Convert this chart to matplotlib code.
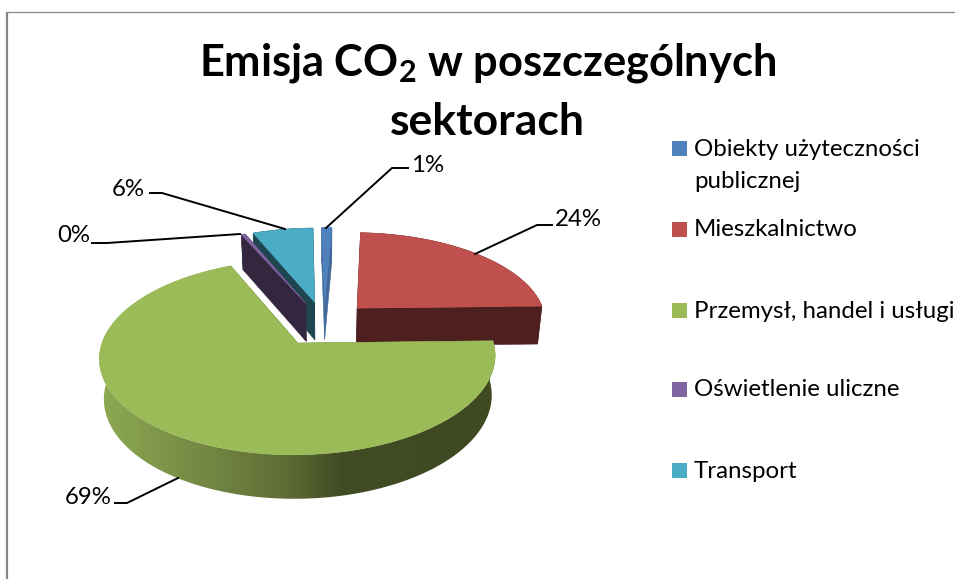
import numpy as np
import matplotlib
matplotlib.use("Agg")
import matplotlib.pyplot as plt
from matplotlib.colors import LinearSegmentedColormap
from matplotlib.patches import Polygon, Rectangle

# ---- data
categories = ["Obiekty użyteczności\npublicznej", "Mieszkalnictwo",
              "Przemysł, handel i usługi", "Oświetlenie uliczne", "Transport"]
values = [1.0, 24.0, 69.0, 0.4, 6.0]
top_colors = ["#4f81bd", "#c0504d", "#9bbb59", "#8064a2", "#4bacc6"]
side_colors = ["#41699b", "#4d1f1e", "#5b6b33", "#35263f", "#1e4650"]
title_lines = ["Emisja CO$_{\\mathbf{2}}$ w poszczególnych", "sektorach"]

# ---- projection of the tilted, exploded pie (pixel space)
CX, CY, RX, RY, K, EXPLODE = 324, 323.5, 190, 90, 0.14, 0.25
SHRINK, DEPTH, DEPTH_SLOPE, DEPTH_REF = 0.98, 38, 0.041, 308
START = np.radians(-1.0)

plt.rcParams["font.family"] = ["Lato", "DejaVu Sans"]
plt.rcParams["mathtext.fontset"] = "custom"
plt.rcParams["mathtext.bf"] = "Lato:bold"
plt.rcParams["mathtext.rm"] = "Lato"
fig = plt.figure(figsize=(9.55, 5.79), dpi=100)
ax = fig.add_axes([0, 0, 1, 1])


def project(u, v):
    s = 1 / (1 - K * v)
    return CX + RX * u * s, CY + RY * v * s


def drop(p):
    x, y = p
    return CX + (x - CX) * SHRINK, y + DEPTH + DEPTH_SLOPE * (y - DEPTH_REF)


def rim(theta, ou, ov):
    return project(ou + np.sin(theta), ov - np.cos(theta))


side_ramp = LinearSegmentedColormap.from_list(
    "side", [(0.0, "#8fae55"), (0.02, "#8ca952"), (0.326, "#6e803f"), (0.48, "#5b6b33"),
             (0.61, "#414b24"), (1.0, "#3f4a23")])

shares = np.array(values) / np.sum(values)
ends = START + np.cumsum(shares) * 2 * np.pi
starts = ends - shares * 2 * np.pi
mids = (starts + ends) / 2

order = sorted(range(len(values)), key=lambda i: -np.cos(mids[i]))
for level, i in enumerate(order):
    z = 2 + level
    ou, ov = EXPLODE * np.sin(mids[i]), -EXPLODE * np.cos(mids[i])
    apex = project(ou, ov)
    thetas = np.linspace(starts[i], ends[i], max(3, int(shares[i] * 400)))
    arc = [rim(t, ou, ov) for t in thetas]
    for edge in (arc[0], arc[-1]):
        ax.add_patch(Polygon([apex, edge, drop(edge), drop(apex)], closed=True,
                             fc=side_colors[i], ec=side_colors[i], lw=0.4, zorder=z))
    wall = arc + [drop(p) for p in arc[::-1]]
    if i == 2:
        # the largest slice has a shaded outer wall
        clip = Polygon(wall, closed=True, fc="none", ec="none", zorder=z)
        ax.add_patch(clip)
        img = ax.imshow(np.linspace(0, 1, 405)[None, :], cmap=side_ramp, aspect="auto",
                        extent=(95, 500, 579, 0), zorder=z, interpolation="bilinear")
        img.set_clip_path(clip)
    else:
        ax.add_patch(Polygon(wall, closed=True, fc=side_colors[i],
                             ec=side_colors[i], lw=0.4, zorder=z))
    ax.add_patch(Polygon([apex] + arc, closed=True, fc=top_colors[i],
                         ec=top_colors[i], lw=0.4, zorder=z + 0.5))

ax.set_xlim(0, 955)
ax.set_ylim(579, 0)
ax.axis("off")

# ---- frame
ax.plot([7, 7], [579, 12], color="#868686", lw=1.6, solid_capstyle="butt", zorder=1)
ax.plot([6, 955], [11.5, 11.5], color="#868686", lw=0.9, solid_capstyle="butt", zorder=1)

# ---- title
ax.text(488, 63, title_lines[0], ha="center", va="center",
        fontsize=31.2, fontweight="bold", color="black", zorder=10)
ax.text(487, 122, title_lines[1], ha="center", va="center",
        fontsize=32, fontweight="bold", color="black", zorder=10)

# ---- data labels and leaders
labels = [f"{v:.0f}%" for v in values]
label_pos = [(411, 165), (555, 220), (65, 498), (57, 236), (112, 189)]
leaders = [[(408, 168), (392, 168), (326, 228)],
           [(552, 225), (537, 225), (475, 254)],
           [(115, 503), (127, 503), (178, 478)],
           [(92, 243), (107, 243), (240, 234)],
           [(150, 193), (162, 193), (285, 229)]]
for text, pos, line in zip(labels, label_pos, leaders):
    ax.text(pos[0], pos[1], text, ha="left", va="center", fontsize=17.3, color="black", zorder=10)
    ax.plot(*zip(*line), color="black", lw=1.4, zorder=9, solid_joinstyle="miter")

# ---- legend
legend_y = [149, 230, 311, 390, 471]
for name, color, y in zip(categories, top_colors, legend_y):
    ax.add_patch(Rectangle((672, y - 8.5), 15, 15, fc=color, ec="none", zorder=10))
    first, *rest = name.split("\n")
    ax.text(694, y, first, ha="left", va="center", fontsize=17.3, color="black", zorder=10)
    for n, line in enumerate(rest, 1):
        ax.text(694, y + 33 * n, line, ha="left", va="center", fontsize=17.3, color="black", zorder=10)

fig.savefig("out.png", dpi=100, facecolor="white")
